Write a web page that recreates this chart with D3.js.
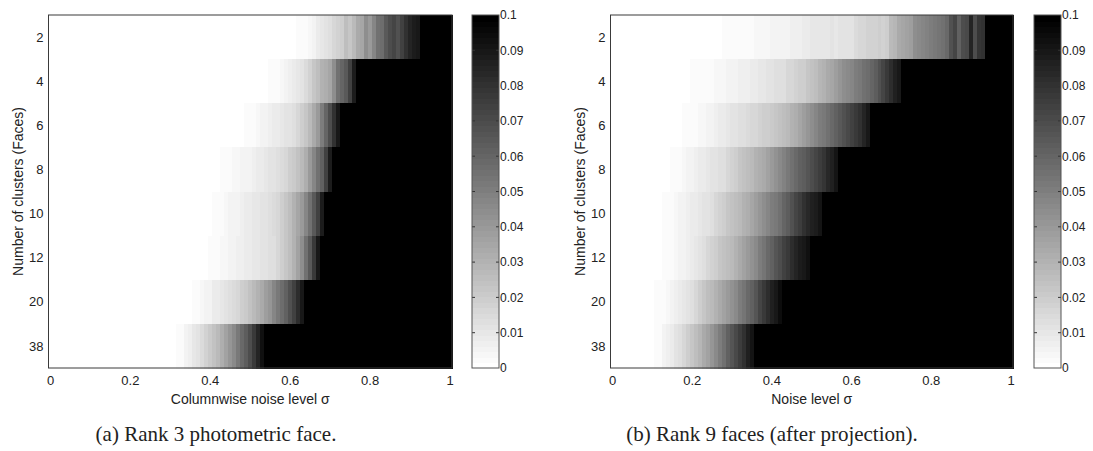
<!DOCTYPE html>
<html>
<head>
<meta charset="utf-8">
<script src="https://cdn.jsdelivr.net/npm/d3@7"></script>
<style>
  body { margin: 0; background: #fff; }
  svg text { font-family: "Liberation Sans", Arial, sans-serif; fill: #222; }
  .caption { font-family: "Liberation Serif", "DejaVu Serif", serif !important; }
  .cell { shape-rendering: crispEdges; }
</style>
</head>
<body>
<svg width="1093" height="451"></svg>
<script>
// rows of both heat maps (number of clusters)
const clusters = ["2", "4", "6", "8", "10", "12", "20", "38"]
const xTicks = [0, 0.2, 0.4, 0.6, 0.8, 1]
const cbTicks = [0, 0.01, 0.02, 0.03, 0.04, 0.05, 0.06, 0.07, 0.08, 0.09, 0.1]
const noise = d3.range(101).map(i => i / 100)   // sigma = 0, 0.01 ... 1
const maxVal = 0.1

// value 0 before the first column of each row, read values after it, then saturated (0.1)
const startA = [62, 55, 49, 43, 41, 40, 36, 32]
const rampA = [
    [0.002, 0.002, 0.003, 0.004, 0.005, 0.008, 0.010, 0.012, 0.014, 0.016, 0.018, 0.020, 0.025, 0.022, 0.028, 0.033, 0.035, 0.045, 0.040, 0.047, 0.055, 0.057, 0.065, 0.070, 0.072, 0.068, 0.075, 0.080, 0.085, 0.088, 0.090],
    [0.002, 0.002, 0.003, 0.004, 0.006, 0.007, 0.009, 0.010, 0.012, 0.015, 0.018, 0.022, 0.025, 0.030, 0.032, 0.035, 0.045, 0.055, 0.060, 0.065, 0.075, 0.088],
    [0.002, 0.002, 0.003, 0.004, 0.005, 0.006, 0.007, 0.008, 0.009, 0.010, 0.011, 0.012, 0.014, 0.016, 0.020, 0.022, 0.028, 0.033, 0.040, 0.050, 0.060, 0.070, 0.080, 0.090],
    [0.002, 0.002, 0.003, 0.004, 0.004, 0.005, 0.006, 0.006, 0.007, 0.008, 0.009, 0.010, 0.011, 0.012, 0.013, 0.015, 0.017, 0.019, 0.021, 0.024, 0.027, 0.032, 0.040, 0.048, 0.055, 0.062, 0.075, 0.088],
    [0.002, 0.002, 0.003, 0.004, 0.005, 0.005, 0.006, 0.007, 0.008, 0.009, 0.010, 0.010, 0.011, 0.012, 0.013, 0.015, 0.017, 0.019, 0.022, 0.025, 0.030, 0.035, 0.040, 0.048, 0.055, 0.065, 0.075, 0.088],
    [0.002, 0.002, 0.003, 0.004, 0.004, 0.005, 0.006, 0.007, 0.007, 0.008, 0.009, 0.010, 0.010, 0.011, 0.012, 0.013, 0.014, 0.016, 0.019, 0.022, 0.026, 0.030, 0.037, 0.045, 0.055, 0.065, 0.078, 0.090],
    [0.002, 0.002, 0.004, 0.005, 0.006, 0.008, 0.009, 0.010, 0.012, 0.013, 0.015, 0.017, 0.019, 0.021, 0.024, 0.027, 0.030, 0.034, 0.038, 0.042, 0.047, 0.052, 0.057, 0.062, 0.068, 0.075, 0.082, 0.090],
    [0.002, 0.003, 0.005, 0.007, 0.010, 0.012, 0.015, 0.018, 0.021, 0.024, 0.028, 0.032, 0.036, 0.041, 0.046, 0.052, 0.058, 0.064, 0.070, 0.077, 0.085, 0.093]
]

const startB = [28, 20, 18, 15, 13, 13, 11, 11]
const rampB = [
    [0.002, 0.002, 0.002, 0.002, 0.002, 0.002, 0.003, 0.003, 0.004, 0.004, 0.004, 0.004, 0.005, 0.005, 0.005, 0.006, 0.006, 0.007, 0.007, 0.007, 0.008, 0.009, 0.010, 0.010, 0.010, 0.010, 0.010, 0.011, 0.010, 0.011, 0.011, 0.012, 0.012, 0.015, 0.016, 0.017, 0.018, 0.018, 0.018, 0.019, 0.018, 0.020, 0.027, 0.029, 0.033, 0.035, 0.036, 0.038, 0.044, 0.046, 0.047, 0.049, 0.051, 0.052, 0.054, 0.056, 0.058, 0.068, 0.072, 0.062, 0.069, 0.071, 0.085, 0.070, 0.079, 0.081],
    [0.002, 0.002, 0.002, 0.002, 0.003, 0.003, 0.004, 0.004, 0.004, 0.005, 0.006, 0.006, 0.007, 0.007, 0.007, 0.008, 0.009, 0.010, 0.010, 0.011, 0.012, 0.013, 0.013, 0.014, 0.016, 0.017, 0.018, 0.019, 0.020, 0.022, 0.024, 0.026, 0.029, 0.031, 0.033, 0.035, 0.038, 0.041, 0.044, 0.046, 0.048, 0.050, 0.052, 0.055, 0.057, 0.060, 0.064, 0.068, 0.073, 0.077, 0.082, 0.086, 0.090],
    [0.002, 0.002, 0.002, 0.003, 0.004, 0.004, 0.005, 0.006, 0.007, 0.008, 0.009, 0.010, 0.011, 0.012, 0.013, 0.014, 0.015, 0.016, 0.017, 0.018, 0.019, 0.020, 0.021, 0.022, 0.024, 0.026, 0.028, 0.030, 0.032, 0.035, 0.038, 0.041, 0.044, 0.047, 0.050, 0.053, 0.056, 0.059, 0.062, 0.065, 0.068, 0.071, 0.074, 0.077, 0.081, 0.085, 0.090],
    [0.002, 0.002, 0.003, 0.004, 0.005, 0.006, 0.007, 0.008, 0.009, 0.010, 0.011, 0.012, 0.013, 0.014, 0.016, 0.018, 0.020, 0.022, 0.024, 0.026, 0.028, 0.030, 0.032, 0.034, 0.037, 0.040, 0.043, 0.046, 0.049, 0.052, 0.055, 0.058, 0.061, 0.064, 0.067, 0.070, 0.073, 0.076, 0.079, 0.083, 0.087, 0.092],
    [0.002, 0.002, 0.003, 0.004, 0.005, 0.006, 0.007, 0.008, 0.009, 0.010, 0.011, 0.012, 0.014, 0.016, 0.018, 0.020, 0.022, 0.024, 0.026, 0.028, 0.030, 0.032, 0.035, 0.038, 0.041, 0.044, 0.047, 0.050, 0.053, 0.056, 0.060, 0.064, 0.068, 0.072, 0.076, 0.080, 0.083, 0.086, 0.089, 0.092],
    [0.002, 0.002, 0.003, 0.004, 0.005, 0.006, 0.007, 0.008, 0.010, 0.012, 0.014, 0.016, 0.018, 0.020, 0.022, 0.024, 0.026, 0.028, 0.031, 0.034, 0.037, 0.040, 0.043, 0.046, 0.050, 0.054, 0.058, 0.062, 0.066, 0.070, 0.074, 0.078, 0.082, 0.085, 0.088, 0.090, 0.093],
    [0.002, 0.002, 0.003, 0.004, 0.006, 0.007, 0.008, 0.010, 0.012, 0.014, 0.016, 0.019, 0.022, 0.025, 0.028, 0.031, 0.034, 0.037, 0.040, 0.043, 0.046, 0.050, 0.054, 0.058, 0.062, 0.067, 0.072, 0.077, 0.082, 0.086, 0.090, 0.094],
    [0.002, 0.003, 0.005, 0.007, 0.009, 0.011, 0.013, 0.016, 0.019, 0.022, 0.025, 0.029, 0.033, 0.037, 0.041, 0.046, 0.051, 0.056, 0.061, 0.066, 0.071, 0.076, 0.081, 0.086, 0.092]
]

const svg = d3.select('svg')

// flipped 64 level gray colormap
function grijs(v) {
    const level = Math.min(63, Math.floor(v / maxVal * 64))
    const g = Math.round((1 - level / 63) * 255)
    return d3.rgb(g, g, g).toString()
}

function maakRijen(start, ramp) {
    const cells = []
    start.forEach((s, r) => {
        noise.forEach((sigma, c) => {
            let v
            if (c < s) v = 0
            else if (c < s + ramp[r].length) v = ramp[r][c - s]
            else v = maxVal
            cells.push({ row: clusters[r], sigma: sigma, value: v })
        })
    })
    return cells
}

function maakPaneel(opts) {
    const { left, right, top, bottom, cbLeft, cbRight, cells, xLabel, caption, captionX } = opts

    const x = d3.scaleLinear().domain([-0.005, 1.005]).range([left, right])
    const y = d3.scaleBand().domain(clusters).range([top, bottom])

    const g = svg.append('g')

    g.append('g')
        .selectAll('rect')
        .data(cells)
        .enter()
        .append('rect')
        .attr('class', 'cell')
        .attr('x', d => Math.round(x(d.sigma - 0.005)))
        .attr('y', d => Math.round(y(d.row)))
        .attr('width', d => Math.round(x(d.sigma + 0.005)) - Math.round(x(d.sigma - 0.005)) + 1)
        .attr('height', d => Math.round(y(d.row) + y.bandwidth()) - Math.round(y(d.row)) + 1)
        .attr('fill', d => grijs(d.value))

    g.append('rect')
        .attr('x', left).attr('y', top)
        .attr('width', right - left).attr('height', bottom - top)
        .attr('fill', 'none').attr('stroke', '#3a3a3a').attr('stroke-width', 1)

    // tick labels
    g.selectAll('.ylab')
        .data(clusters)
        .enter()
        .append('text')
        .attr('x', left - 5)
        .attr('y', d => y(d) + y.bandwidth() / 2)
        .attr('dy', '0.36em')
        .attr('text-anchor', 'end')
        .attr('font-size', 13)
        .text(d => d)

    g.selectAll('.xlab')
        .data(xTicks)
        .enter()
        .append('text')
        .attr('x', d => x(d))
        .attr('y', bottom + 17)
        .attr('text-anchor', 'middle')
        .attr('font-size', 13)
        .text(d => d)

    g.append('text')
        .attr('x', (left + right) / 2)
        .attr('y', bottom + 36)
        .attr('text-anchor', 'middle')
        .attr('font-size', 14)
        .text(xLabel)

    g.append('text')
        .attr('transform', `translate(${left - 26},${(top + bottom) / 2}) rotate(-90)`)
        .attr('text-anchor', 'middle')
        .attr('font-size', 14)
        .text('Number of clusters (Faces)')

    // colorbar
    const cb = d3.scaleLinear().domain([0, maxVal]).range([bottom, top])
    const bands = d3.range(64).map(i => i * maxVal / 64)
    g.append('g')
        .selectAll('rect')
        .data(bands)
        .enter()
        .append('rect')
        .attr('class', 'cell')
        .attr('x', cbLeft)
        .attr('y', d => Math.round(cb(d + maxVal / 64)))
        .attr('width', cbRight - cbLeft)
        .attr('height', d => Math.round(cb(d)) - Math.round(cb(d + maxVal / 64)) + 1)
        .attr('fill', d => grijs(d + maxVal / 128))

    g.selectAll('.cbtick')
        .data(cbTicks.slice(1, -1))
        .enter()
        .append('path')
        .attr('d', d => `M${cbLeft},${cb(d)}h3M${cbRight},${cb(d)}h-3`)
        .attr('stroke', '#333')
        .attr('stroke-width', 1)

    g.append('rect')
        .attr('x', cbLeft).attr('y', top)
        .attr('width', cbRight - cbLeft).attr('height', bottom - top)
        .attr('fill', 'none').attr('stroke', '#555').attr('stroke-width', 1)

    g.selectAll('.cblab')
        .data(cbTicks)
        .enter()
        .append('text')
        .attr('x', cbRight + 1)
        .attr('y', d => cb(d))
        .attr('dy', '0.36em')
        .attr('font-size', 12)
        .text(d => d)

    g.append('text')
        .attr('class', 'caption')
        .attr('x', captionX)
        .attr('y', 441)
        .attr('text-anchor', 'middle')
        .attr('font-size', 21)
        .text(caption)
}

maakPaneel({
    left: 48.5, right: 452, top: 15, bottom: 368, cbLeft: 472, cbRight: 499,
    cells: maakRijen(startA, rampA),
    xLabel: 'Columnwise noise level σ',
    caption: '(a) Rank 3 photometric face.', captionX: 216
})

maakPaneel({
    left: 610.5, right: 1013, top: 15, bottom: 368, cbLeft: 1034, cbRight: 1061,
    cells: maakRijen(startB, rampB),
    xLabel: 'Noise level σ',
    caption: '(b) Rank 9 faces (after projection).', captionX: 772
})
</script>
</body>
</html>
